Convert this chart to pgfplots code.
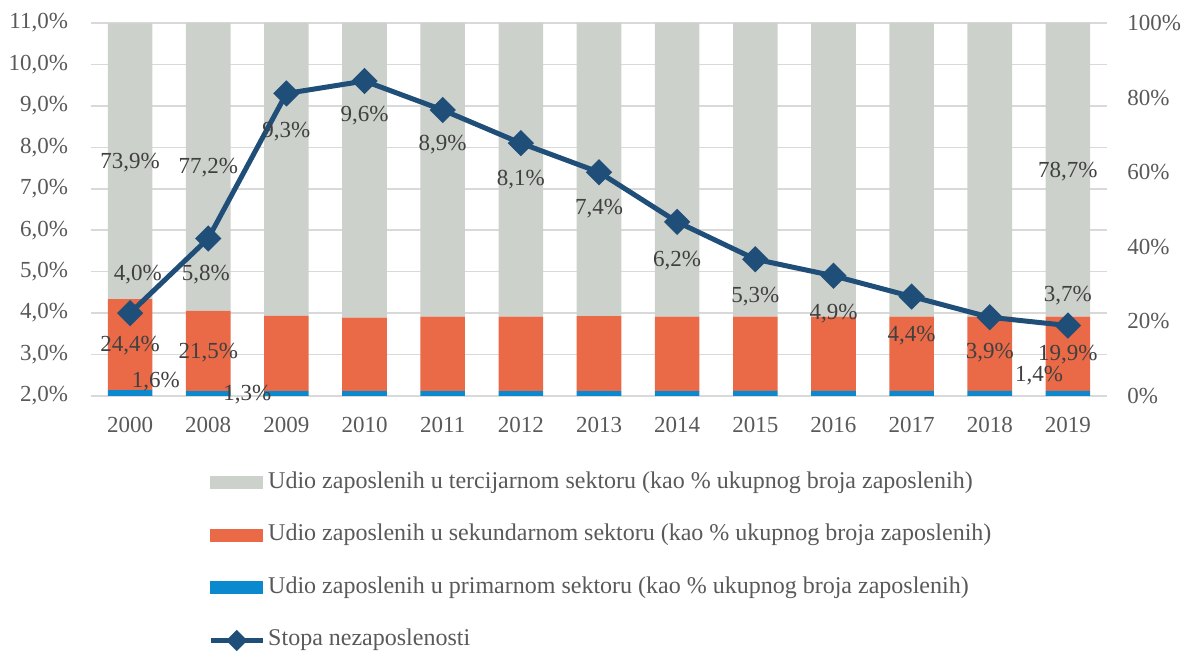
\documentclass[border=0pt]{standalone}
\usepackage{pgfplots}
\usepackage{pgfplotstable}
\pgfplotsset{compat=1.18}
\usepackage{fontspec}
\setmainfont{Liberation Serif}
\definecolor{tergray}{HTML}{CDD1CC}
\definecolor{secorange}{HTML}{EA6A48}
\definecolor{primblue}{HTML}{0A89CF}
\definecolor{linecol}{HTML}{1F4E79}
\definecolor{gridgray}{HTML}{D9D9D9}
\definecolor{ticktext}{HTML}{595959}
\definecolor{labeltext}{HTML}{404040}

\pgfplotstableread{
x prim sec ter
0 1.6 24.4 73.9
1 1.3 21.5 77.2
2 1.3 20.2 78.5
3 1.3 19.7 79.0
4 1.3 20.0 78.7
5 1.3 20.0 78.7
6 1.3 20.1 78.6
7 1.3 20.0 78.7
8 1.4 19.9 78.7
9 1.4 19.9 78.7
10 1.4 19.9 78.7
11 1.4 19.9 78.7
12 1.4 19.9 78.7
}\bars

\pgfplotstableread{
x u
0 4.0
1 5.8
2 9.3
3 9.6
4 8.9
5 8.1
6 7.4
7 6.2
8 5.3
9 4.9
10 4.4
11 3.9
12 3.7
}\unemp

\newcommand{\chartfont}{\fontsize{11.5}{13.8}\selectfont}
\newcommand{\legfont}{\fontsize{12}{14.4}\selectfont}
\pgfplotsset{
  base/.style={width=508pt,height=186.5pt,scale only axis,at={(0,0)},anchor=south west,
    xmin=-0.5,xmax=12.5,font=\chartfont,/pgf/number format/assume math mode=true,
    major tick length=0pt, tick style={draw=none}, axis line style={draw=none}},
  lineleg/.style={legend image code/.code={\draw[mark repeat=2,mark phase=2,##1,mark size=2.5pt] plot coordinates {(0pt,0pt) (13pt,0pt) (26pt,0pt)};}},
  barleg/.style={legend image code/.code={\fill[#1] (0pt,-3pt) rectangle (26pt,3pt);}},
}
\tikzset{lbl/.style={text=labeltext,inner sep=0pt,anchor=center,font=\chartfont}}

\begin{document}
\begin{tikzpicture}
% grid, left axis and categories
\begin{axis}[base, ymin=2, ymax=11, ytick={2,3,...,11}, ymajorgrids,
  grid style={gridgray, line width=0.8pt},
  xtick={0,...,12},
  xticklabels={2000,2008,2009,2010,2011,2012,2013,2014,2015,2016,2017,2018,2019},
  yticklabel={\pgfmathprintnumber[fixed,fixed zerofill,precision=1,use comma]{\tick}\%},
  tick label style={text=ticktext},
  xticklabel style={yshift=-7pt}, yticklabel style={xshift=-8pt}]
\end{axis}
% stacked bars, right axis
\begin{axis}[base, ybar stacked, bar width=22.3pt, ymin=0, ymax=100,
  ytick={0,20,...,100}, yticklabel pos=right,
  yticklabel={\pgfmathprintnumber{\tick}\%},
  yticklabel style={xshift=6.7pt}, tick label style={text=ticktext},
  xtick=\empty, clip=false]
\addplot[fill=primblue, draw=none] table[x=x,y=prim]{\bars};
\addplot[fill=secorange, draw=none] table[x=x,y=sec]{\bars};
\addplot[fill=tergray, draw=none] table[x=x,y=ter]{\bars};
\end{axis}
% unemployment line and all data labels
\begin{axis}[base, ymin=2, ymax=11, hide axis, clip=false,
  legend cell align=left,
  legend style={at={(0.115,-0.195)}, anchor=north west, draw=none, fill=none,
    inner sep=0pt, row sep=12.8pt, font=\legfont, text=ticktext,
    nodes={inner sep=1.5pt, text height=8pt, text depth=2.5pt}}]
\addlegendimage{barleg=tergray}
\addlegendentry{Udio zaposlenih u tercijarnom sektoru (kao \% ukupnog broja zaposlenih)}
\addlegendimage{barleg=secorange}
\addlegendentry{Udio zaposlenih u sekundarnom sektoru (kao \% ukupnog broja zaposlenih)}
\addlegendimage{barleg=primblue}
\addlegendentry{Udio zaposlenih u primarnom sektoru (kao \% ukupnog broja zaposlenih)}
\addplot[linecol, line width=2.5pt, mark=square*, mark size=3.4pt,
  mark options={rotate=45, solid, fill=linecol}, lineleg]
  table[x=x,y=u]{\unemp};
\addlegendentry{Stopa nezaposlenosti}
% bar labels (positions on the left scale)
\node[lbl] at (axis cs:0,7.625) {73,9\%};
\node[lbl] at (axis cs:1,7.50) {77,2\%};
\node[lbl] at (axis cs:12,7.41) {78,7\%};
\node[lbl] at (axis cs:0,3.206) {24,4\%};
\node[lbl] at (axis cs:1,3.035) {21,5\%};
\node[lbl] at (axis cs:12,2.99) {19,9\%};
\node[lbl] at (axis cs:0.33,2.34) {1,6\%};
\node[lbl] at (axis cs:1.5,2.04) {1,3\%};
\node[lbl] at (axis cs:11.63,2.50) {1,4\%};
% line labels
\node[lbl] at (axis cs:0.1,4.92) {4,0\%};
\node[lbl] at (axis cs:0.97,4.92) {5,8\%};
\node[lbl] at (axis cs:2,8.39) {9,3\%};
\node[lbl] at (axis cs:3,8.76) {9,6\%};
\node[lbl] at (axis cs:4,8.06) {8,9\%};
\node[lbl] at (axis cs:5,7.21) {8,1\%};
\node[lbl] at (axis cs:6,6.51) {7,4\%};
\node[lbl] at (axis cs:7,5.26) {6,2\%};
\node[lbl] at (axis cs:8,4.39) {5,3\%};
\node[lbl] at (axis cs:9,3.98) {4,9\%};
\node[lbl] at (axis cs:10,3.45) {4,4\%};
\node[lbl] at (axis cs:11,3.04) {3,9\%};
\node[lbl] at (axis cs:12,4.41) {3,7\%};
\end{axis}
\pgfresetboundingbox
\path (-45.5pt,-128pt) rectangle (546.5pt,198pt);
\end{tikzpicture}
\end{document}
